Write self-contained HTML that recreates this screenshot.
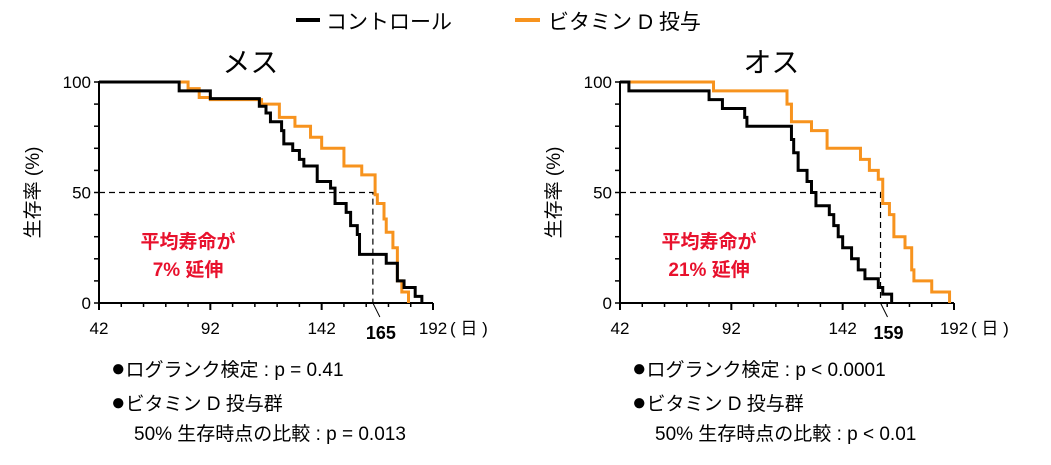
<!DOCTYPE html>
<html><head><meta charset="utf-8">
<style>
body{margin:0;background:#fff;width:1051px;height:460px;overflow:hidden;font-family:"Liberation Sans","Noto Sans CJK JP",sans-serif;}
svg text{font-family:"Liberation Sans","Noto Sans CJK JP",sans-serif;}
</style></head>
<body>
<svg id="c" width="1051" height="460">
  <g>
    <line x1="296" y1="20" x2="320" y2="20" stroke="#000" stroke-width="4"/>
    <text x="326" y="29" font-size="21">コントロール</text>
    <line x1="515" y1="20" x2="540" y2="20" stroke="#f7931e" stroke-width="4"/>
    <text x="548" y="29" font-size="21">ビタミン D 投与</text>
  </g>
</svg>
<script>
const days=[42,92,142,192];
const yTicks=[0,50,100];
// female (メス)
const fCtrlT=[42,78,92,114,117,119,124,125,129,132,134,140,146,148,153,155,158,159,171,176,179,184,187];
const fCtrlS=[100,96,92.5,89,86,82,78,72,69,65,62,55,52,45,41,35,31,22,18,10,7,3,0];
const fVitT=[42,82,87,92,115,123,130,137,142,152,160,166,167,170,171,174,176,178,181];
const fVitS=[100,97,93,92,90,84,80,75,70,62,58,49,45,38,32,25,10,5,0];
// male (オス)
const mCtrlT=[42,46,82,88,98,99,119,120,122,126,128,130,136,138,140,142,146,149,152,158,160,164];
const mCtrlS=[100,96,92,88,84,80,74,68,60,55,50,44,40,35,30,25,20,15,11,7,4,0];
const mVitT=[42,84,117,119,128,135,150,154,158,160,163,165,170,173,174,182,190];
const mVitS=[100,96,90,82,78,70,65,60,56,45,40,30,25,15,10,5,0];
const panels=[
 {name:'female',title:'メス',x0:99,ctrlT:fCtrlT,ctrlS:fCtrlS,vitT:fVitT,vitS:fVitS,median:165,note:['平均寿命が','7% 延伸'],
  stats:[['●','ログランク検定 : p = 0.41'],['●','ビタミン D 投与群'],['','50% 生存時点の比較 : p = 0.013']]},
 {name:'male',title:'オス',x0:620,ctrlT:mCtrlT,ctrlS:mCtrlS,vitT:mVitT,vitS:mVitS,median:159,note:['平均寿命が','21% 延伸'],
  stats:[['●','ログランク検定 : p < 0.0001'],['●','ビタミン D 投与群'],['','50% 生存時点の比較 : p < 0.01']]}
];
const svg=document.getElementById('c');
const NS='http://www.w3.org/2000/svg';
function mk(tag,attrs,parent){const e=document.createElementNS(NS,tag);for(const k in attrs)e.setAttribute(k,attrs[k]);(parent||svg).appendChild(e);return e;}
const Y0=303,Y100=82,W=334;
panels.forEach(p=>{
  const g=mk('g',{});
  
  
  const sx=d=>p.x0+(d-42)/150*W;
  const sy=v=>Y0-(v/100)*(Y0-Y100);
  const t=mk('text',{x:sx(110),y:72,'font-size':28,'text-anchor':'middle'},g);t.textContent=p.title;
  
  
  const yl=mk('text',{x:0,y:0,'font-size':19,'text-anchor':'middle',transform:`translate(${p.x0-60},${sy(50)}) rotate(-90)`},g);yl.textContent='生存率 (%)';
  
  
  const ax=mk('path',{d:`M${p.x0},${Y100-1}V${Y0}H${sx(192)}`,stroke:'#000','stroke-width':2,fill:'none'},g);
  
  
  for(let v=0;v<=100;v+=10){mk('line',{x1:p.x0-5,x2:p.x0,y1:sy(v),y2:sy(v),stroke:'#000','stroke-width':1.5},g);}
  for(let d=42;d<=192;d+=10){const big=(d-42)%50===0;mk('line',{x1:sx(d),x2:sx(d),y1:Y0,y2:Y0+(big?7:4),stroke:'#000','stroke-width':big?2:1.5},g);}
  yTicks.forEach(v=>{const e=mk('text',{x:p.x0-8,y:sy(v)+6,'font-size':17,'text-anchor':'end'},g);e.textContent=v;
    
    });
  days.forEach(d=>{const e=mk('text',{x:sx(d),y:Y0+31,'font-size':17,'text-anchor':'middle'},g);e.textContent=d;
    
    });
  const un=mk('text',{x:sx(192)+17,y:Y0+31,'font-size':17},g);un.textContent='( 日 )';
  
  
  const ref=mk('path',{d:`M${p.x0},${sy(50)}H${sx(p.median)}V${Y0}`,stroke:'#000','stroke-width':1.2,'stroke-dasharray':'6,4',fill:'none'},g);
  
  
  mk('line',{x1:sx(p.median),y1:Y0,x2:sx(p.median)+7,y2:Y0+14,stroke:'#000','stroke-width':1},g);
  const ml=mk('text',{x:sx(p.median)+8,y:Y0+36,'font-size':18,'font-weight':'bold','text-anchor':'middle'},g);ml.textContent=p.median;
  
  
  function step(T,S,color,nm){let d=`M${sx(T[0])},${sy(S[0])}`;for(let i=1;i<T.length;i++){d+=`H${sx(T[i])}V${sy(S[i])}`;}
    const e=mk('path',{d,stroke:color,'stroke-width':3,fill:'none'},g);
    
    }
  step(p.vitT,p.vitS,'#f7931e','vitamin-d-curve');
  step(p.ctrlT,p.ctrlS,'#000','control-curve');
  p.note.forEach((s,i)=>{const e=mk('text',{x:sx(82),y:248+i*28,'font-size':19,'font-weight':'bold',fill:'#e8112d','text-anchor':'middle'},g);e.textContent=s;
    
    });
  p.stats.forEach((s,i)=>{const e=mk('text',{x:p.x0+(i===2?35:12),y:[376,410,440][i],'font-size':19},g);
    if(s[0]){const b=mk('tspan',{'font-size':24},e);b.textContent=s[0];}
    const r=mk('tspan',{},e);r.textContent=s[1];
    
    });
});
</script>
</body></html>
